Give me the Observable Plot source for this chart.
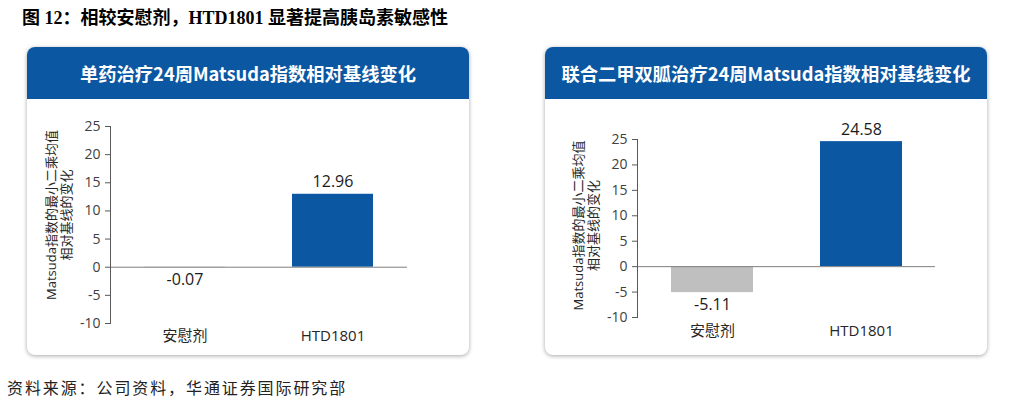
<!DOCTYPE html>
<html><head><meta charset="utf-8">
<script src="https://cdn.jsdelivr.net/npm/d3@7"></script>
<script src="https://cdn.jsdelivr.net/npm/@observablehq/plot@0.6"></script>
<style>
html,body{margin:0;padding:0;background:#fff;width:1012px;height:403px;overflow:hidden;position:relative;}
#title{position:absolute;left:22px;top:3px;font:bold 18px "Liberation Serif","Noto Sans CJK SC";color:#000;white-space:nowrap;}
#title .cjk{font-family:"Noto Sans CJK SC";}
#source{position:absolute;left:7px;top:375px;font:16px "Noto Sans CJK SC";letter-spacing:1.9px;color:#222;white-space:nowrap;}
.card{position:absolute;top:47px;width:442px;height:308px;background:#fff;border-radius:8px;box-shadow:0 1px 4px rgba(0,0,0,0.35);overflow:hidden;}
.card .hdr{height:52px;background:#0b57a2;color:#fff;font:bold 18.3px "Noto Sans CJK SC";display:flex;align-items:center;justify-content:center;white-space:nowrap;}
.card .body{position:absolute;left:0;top:52px;}
</style></head>
<body>
<div id="title"><span class="cjk">图</span> 12<span class="cjk">：相较安慰剂，</span>HTD1801 <span class="cjk">显著提高胰岛素敏感性</span></div>
<div class="card" style="left:27px"><div class="hdr" id="h1"></div><div class="body" id="c1"></div></div>
<div class="card" style="left:545px"><div class="hdr" id="h2"></div><div class="body" id="c2"></div></div>
<div id="source">资料来源：公司资料，华通证券国际研究部</div>
<script>
const categories = ["安慰剂", "HTD1801"];
const monoValues = [-0.07, 12.96];
const comboValues = [-5.11, 24.58];
const yTicks = [-10, -5, 0, 5, 10, 15, 20, 25];
const panelTitles = ["单药治疗24周Matsuda指数相对基线变化", "联合二甲双胍治疗24周Matsuda指数相对基线变化"];
const yLabel = "Matsuda指数的最小二乘均值\n相对基线的变化";
const barColors = ["#bfbfbf", "#0b57a2"];

function panel(values, m, labelDx) {
  const data = categories.map((c, i) => ({cat: c, v: values[i], color: barColors[i]}));
  return Plot.plot({
    width: 442, height: 256,
    marginLeft: m.l, marginRight: m.r, marginTop: m.t, marginBottom: m.b,
    style: {fontFamily: '"Open Sans","Noto Sans CJK SC"', fontSize: "14px", color: "#404040", background: "transparent", overflow: "visible"},
    x: {domain: categories, paddingInner: 0.45, paddingOuter: 0.225, label: null},
    y: {domain: [-10, 25], label: null},
    marks: [
      Plot.barY(data, {x: "cat", y: "v", fill: "color"}),
      Plot.ruleY([0], {stroke: "#7f7f7f", strokeWidth: 1}),
      Plot.frame({anchor: "left", stroke: "#595959"}),
      Plot.axisY({ticks: yTicks, tickSize: 5, tickPadding: 5, tickFormat: d => String(d), fontSize: 14, stroke: "#595959", fill: "#404040"}),
      Plot.axisX({tickSize: 0, tickPadding: m.xp, fontSize: 15, fill: "#262626"}),
      Plot.text([yLabel], {frameAnchor: "left", dx: labelDx, dy: m.ldy, rotate: -90, fontSize: 13, fill: "#262626", lineHeight: 1.15, textAnchor: "middle", lineAnchor: "middle"}),
      Plot.text(data.filter(d => d.v >= 0), {x: "cat", y: "v", text: d => d.v.toFixed(2), dy: -12, fontSize: 16, fill: "#1a1a1a", lineAnchor: "middle"}),
      Plot.text(data.filter(d => d.v < 0), {x: "cat", y: "v", text: d => d.v.toFixed(2), dy: 12, fontSize: 16, fill: "#1a1a1a", lineAnchor: "middle"})
    ]
  });
}

const p1 = panel(monoValues, {l: 83, r: 62, t: 27, b: 32, xp: 7, ldy: -10}, -52);
const p2 = panel(comboValues, {l: 92, r: 52, t: 40, b: 38, xp: 8, ldy: -3}, -52);
document.getElementById("h1").textContent = panelTitles[0];
document.getElementById("h2").textContent = panelTitles[1];
document.getElementById("c1").appendChild(p1);
document.getElementById("c2").appendChild(p2);
</script>
</body></html>
